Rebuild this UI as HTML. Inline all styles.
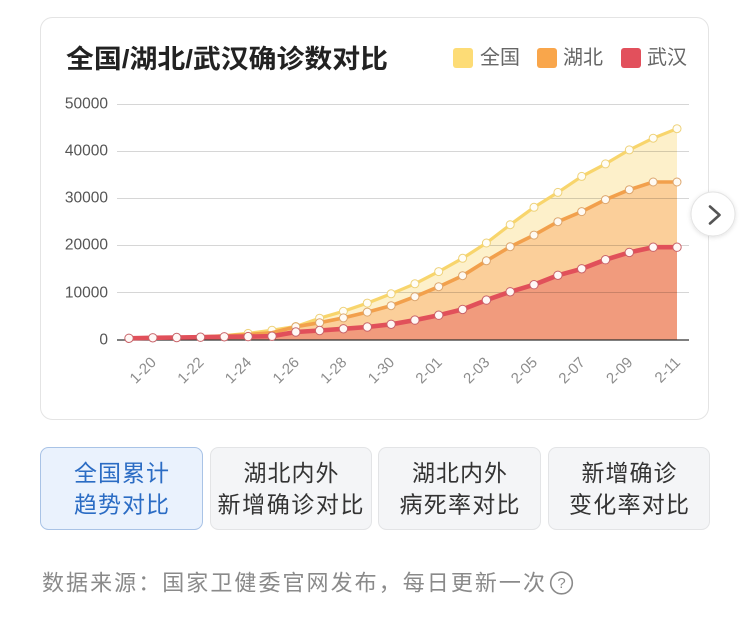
<!DOCTYPE html>
<html>
<head>
<meta charset="utf-8">
<style>
html,body{margin:0;padding:0;background:#fff;}
body{width:750px;height:623px;overflow:hidden;}
svg{display:block;}
.cjk{font-family:"Liberation Sans","Noto Sans CJK SC",sans-serif;}
.lat{font-family:"Liberation Sans",sans-serif;}
</style>
</head>
<body>
<svg width="750" height="623" viewBox="0 0 750 623" xmlns="http://www.w3.org/2000/svg">
  <defs>
    <filter id="sh" x="-30%" y="-30%" width="160%" height="160%">
      <feDropShadow dx="0" dy="1" stdDeviation="2" flood-color="#000" flood-opacity="0.12"/>
    </filter>
  </defs>

  <!-- card -->
  <rect x="40.5" y="17.5" width="668" height="402" rx="12" ry="12" fill="#fff" stroke="#e4e4e4" stroke-width="1"/>

  <!-- title -->
  <text class="cjk" x="66" y="59" font-size="26" font-weight="bold" fill="#222" dominant-baseline="central" textLength="322" lengthAdjust="spacingAndGlyphs">全国/湖北/武汉确诊数对比</text>

  <!-- legend -->
  <rect x="453" y="48" width="20" height="20" rx="3" fill="#fddc76"/>
  <text class="cjk" x="480" y="58" font-size="20" fill="#666" dominant-baseline="central">全国</text>
  <rect x="537" y="48" width="20" height="20" rx="3" fill="#f9a64b"/>
  <text class="cjk" x="563" y="58" font-size="20" fill="#666" dominant-baseline="central">湖北</text>
  <rect x="621" y="48" width="20" height="20" rx="3" fill="#e2505c"/>
  <text class="cjk" x="647" y="58" font-size="20" fill="#666" dominant-baseline="central">武汉</text>

  <!-- y labels -->
  <g class="lat" font-size="15.5" fill="#555" text-anchor="end" dominant-baseline="central">
    <text x="108" y="104">50000</text>
    <text x="108" y="151">40000</text>
    <text x="108" y="198">30000</text>
    <text x="108" y="245">20000</text>
    <text x="108" y="293">10000</text>
    <text x="108" y="340">0</text>
  </g>

  <!-- areas -->
  <polygon fill="#fdf0ca" points="129,338.6 152.8,338.1 176.7,337.4 200.5,336.8 224.3,335.6 248.1,333.4 272,330.2 295.8,326.5 319.6,318.2 343.4,311.3 367.3,303.1 391.1,293.8 414.9,283.8 438.7,271.6 462.6,258.3 486.4,243 510.2,224.7 534,207.3 557.9,192.4 581.7,176.4 605.5,163.9 629.3,149.9 653.2,138.2 677,128.7 677,340 129,340"/>
  <polygon fill="#fbcf9a" points="129,338.2 152.8,337.7 176.7,337.4 200.5,336.9 224.3,336.1 248.1,334.5 272,332.8 295.8,326.7 319.6,322.7 343.4,317.9 367.3,312.1 391.1,305.7 414.9,296.7 438.7,286.7 462.6,275.7 486.4,260.8 510.2,246.7 534,235.1 557.9,221.7 581.7,211.6 605.5,199.6 629.3,189.7 653.2,182 677,182 677,340 129,340"/>
  <polygon fill="#f19b7d" points="129,338.3 152.8,337.8 176.7,337.5 200.5,337.2 224.3,336.8 248.1,336.6 272,336.2 295.8,332 319.6,330.5 343.4,328.8 367.3,327 391.1,324.3 414.9,320.1 438.7,315.2 462.6,309.4 486.4,300.1 510.2,291.8 534,284.7 557.9,275.3 581.7,268.8 605.5,259.7 629.3,252.4 653.2,247.2 677,247.2 677,340 129,340"/>

  <!-- grid -->
  <g stroke="#000" stroke-opacity="0.16" stroke-width="1">
    <line x1="117" y1="104.5" x2="689" y2="104.5"/>
    <line x1="117" y1="151.5" x2="689" y2="151.5"/>
    <line x1="117" y1="198.5" x2="689" y2="198.5"/>
    <line x1="117" y1="245.5" x2="689" y2="245.5"/>
    <line x1="117" y1="292.5" x2="689" y2="292.5"/>
  </g>
  <line x1="117" y1="340" x2="689" y2="340" stroke="#333" stroke-width="1.2"/>

  <!-- national line -->
  <polyline fill="none" stroke="#f8d56c" stroke-width="3.2" stroke-linejoin="round" stroke-linecap="round" points="129,338.6 152.8,338.1 176.7,337.4 200.5,336.8 224.3,335.6 248.1,333.4 272,330.2 295.8,326.5 319.6,318.2 343.4,311.3 367.3,303.1 391.1,293.8 414.9,283.8 438.7,271.6 462.6,258.3 486.4,243 510.2,224.7 534,207.3 557.9,192.4 581.7,176.4 605.5,163.9 629.3,149.9 653.2,138.2 677,128.7"/>
  <g fill="#fffdf6" stroke="#eed27a" stroke-width="1">
    <circle cx="248.1" cy="333.4" r="4"/><circle cx="272" cy="330.2" r="4"/><circle cx="295.8" cy="326.5" r="4"/><circle cx="319.6" cy="318.2" r="4"/><circle cx="343.4" cy="311.3" r="4"/><circle cx="367.3" cy="303.1" r="4"/><circle cx="391.1" cy="293.8" r="4"/><circle cx="414.9" cy="283.8" r="4"/><circle cx="438.7" cy="271.6" r="4"/><circle cx="462.6" cy="258.3" r="4"/><circle cx="486.4" cy="243" r="4"/><circle cx="510.2" cy="224.7" r="4"/><circle cx="534" cy="207.3" r="4"/><circle cx="557.9" cy="192.4" r="4"/><circle cx="581.7" cy="176.4" r="4"/><circle cx="605.5" cy="163.9" r="4"/><circle cx="629.3" cy="149.9" r="4"/><circle cx="653.2" cy="138.2" r="4"/><circle cx="677" cy="128.7" r="4"/>
  </g>

  <!-- hubei line -->
  <polyline fill="none" stroke="#f2a04c" stroke-width="3.6" stroke-linejoin="round" stroke-linecap="round" points="129,338.2 152.8,337.7 176.7,337.4 200.5,336.9 224.3,336.1 248.1,334.5 272,332.8 295.8,326.7 319.6,322.7 343.4,317.9 367.3,312.1 391.1,305.7 414.9,296.7 438.7,286.7 462.6,275.7 486.4,260.8 510.2,246.7 534,235.1 557.9,221.7 581.7,211.6 605.5,199.6 629.3,189.7 653.2,182 677,182"/>
  <g fill="#fffaf3" stroke="#dca66e" stroke-width="1">
    <circle cx="295.8" cy="326.7" r="4"/><circle cx="319.6" cy="322.7" r="4"/><circle cx="343.4" cy="317.9" r="4"/><circle cx="367.3" cy="312.1" r="4"/><circle cx="391.1" cy="305.7" r="4"/><circle cx="414.9" cy="296.7" r="4"/><circle cx="438.7" cy="286.7" r="4"/><circle cx="462.6" cy="275.7" r="4"/><circle cx="486.4" cy="260.8" r="4"/><circle cx="510.2" cy="246.7" r="4"/><circle cx="534" cy="235.1" r="4"/><circle cx="557.9" cy="221.7" r="4"/><circle cx="581.7" cy="211.6" r="4"/><circle cx="605.5" cy="199.6" r="4"/><circle cx="629.3" cy="189.7" r="4"/><circle cx="653.2" cy="182" r="4"/><circle cx="677" cy="182" r="4"/>
  </g>

  <!-- wuhan line -->
  <polyline fill="none" stroke="#e1505a" stroke-width="4.6" stroke-linejoin="round" stroke-linecap="round" points="129,338.3 152.8,337.8 176.7,337.5 200.5,337.2 224.3,336.8 248.1,336.6 272,336.2 295.8,332 319.6,330.5 343.4,328.8 367.3,327 391.1,324.3 414.9,320.1 438.7,315.2 462.6,309.4 486.4,300.1 510.2,291.8 534,284.7 557.9,275.3 581.7,268.8 605.5,259.7 629.3,252.4 653.2,247.2 677,247.2"/>
  <g fill="#fff8f6" stroke="#c9646a" stroke-width="1">
    <circle cx="129" cy="338.3" r="4.2"/><circle cx="152.8" cy="337.8" r="4.2"/><circle cx="176.7" cy="337.5" r="4.2"/><circle cx="200.5" cy="337.2" r="4.2"/><circle cx="224.3" cy="336.8" r="4.2"/><circle cx="248.1" cy="336.6" r="4.2"/><circle cx="272" cy="336.2" r="4.2"/><circle cx="295.8" cy="332" r="4.2"/><circle cx="319.6" cy="330.5" r="4.2"/><circle cx="343.4" cy="328.8" r="4.2"/><circle cx="367.3" cy="327" r="4.2"/><circle cx="391.1" cy="324.3" r="4.2"/><circle cx="414.9" cy="320.1" r="4.2"/><circle cx="438.7" cy="315.2" r="4.2"/><circle cx="462.6" cy="309.4" r="4.2"/><circle cx="486.4" cy="300.1" r="4.2"/><circle cx="510.2" cy="291.8" r="4.2"/><circle cx="534" cy="284.7" r="4.2"/><circle cx="557.9" cy="275.3" r="4.2"/><circle cx="581.7" cy="268.8" r="4.2"/><circle cx="605.5" cy="259.7" r="4.2"/><circle cx="629.3" cy="252.4" r="4.2"/><circle cx="653.2" cy="247.2" r="4.2"/><circle cx="677" cy="247.2" r="4.2"/>
  </g>

  <!-- x labels -->
  <g class="lat" font-size="15" fill="#8c8c8c" text-anchor="end" dominant-baseline="central">
    <text transform="translate(153.8,360) rotate(-45)">1-20</text>
    <text transform="translate(201.5,360) rotate(-45)">1-22</text>
    <text transform="translate(249.1,360) rotate(-45)">1-24</text>
    <text transform="translate(296.8,360) rotate(-45)">1-26</text>
    <text transform="translate(344.4,360) rotate(-45)">1-28</text>
    <text transform="translate(392.1,360) rotate(-45)">1-30</text>
    <text transform="translate(439.7,360) rotate(-45)">2-01</text>
    <text transform="translate(487.4,360) rotate(-45)">2-03</text>
    <text transform="translate(535,360) rotate(-45)">2-05</text>
    <text transform="translate(582.7,360) rotate(-45)">2-07</text>
    <text transform="translate(630.3,360) rotate(-45)">2-09</text>
    <text transform="translate(678,360) rotate(-45)">2-11</text>
  </g>

  <!-- next button -->
  <circle cx="713" cy="214" r="22" fill="#fff" stroke="#e4e4e4" stroke-width="1" filter="url(#sh)"/>
  <polyline points="710,206.5 719.5,215 710,223.5" fill="none" stroke="#555" stroke-width="2.6" stroke-linecap="round" stroke-linejoin="round"/>

  <!-- buttons -->
  <rect x="40.5" y="447.5" width="162" height="82" rx="8" fill="#eaf2fd" stroke="#a9c3e6"/>
  <rect x="210.5" y="447.5" width="161" height="82" rx="8" fill="#f4f5f7" stroke="#e3e4e6"/>
  <rect x="378.5" y="447.5" width="162" height="82" rx="8" fill="#f4f5f7" stroke="#e3e4e6"/>
  <rect x="548.5" y="447.5" width="161" height="82" rx="8" fill="#f4f5f7" stroke="#e3e4e6"/>
  <g class="cjk" font-size="23" text-anchor="middle" dominant-baseline="central">
    <text x="121.5" y="473" fill="#2b6cc4" textLength="95" lengthAdjust="spacing">全国累计</text>
    <text x="121.5" y="504.5" fill="#2b6cc4" textLength="95" lengthAdjust="spacing">趋势对比</text>
    <text x="291" y="473" fill="#333" textLength="95" lengthAdjust="spacing">湖北内外</text>
    <text x="290.5" y="504.5" fill="#333" textLength="146" lengthAdjust="spacing">新增确诊对比</text>
    <text x="459.5" y="473" fill="#333" textLength="95" lengthAdjust="spacing">湖北内外</text>
    <text x="459.5" y="504.5" fill="#333" textLength="120" lengthAdjust="spacing">病死率对比</text>
    <text x="629" y="473" fill="#333" textLength="95" lengthAdjust="spacing">新增确诊</text>
    <text x="629" y="504.5" fill="#333" textLength="120" lengthAdjust="spacing">变化率对比</text>
  </g>

  <!-- footer -->
  <text class="cjk" x="42" y="583" font-size="22" fill="#8a8a8a" dominant-baseline="central" textLength="503" lengthAdjust="spacing">数据来源：国家卫健委官网发布，每日更新一次</text>
  <circle cx="561.5" cy="583" r="10.8" fill="none" stroke="#8a8a8a" stroke-width="1.6"/>
  <text class="lat" x="561.5" y="583.5" font-size="15" fill="#8a8a8a" text-anchor="middle" dominant-baseline="central">?</text>
</svg>
</body>
</html>
